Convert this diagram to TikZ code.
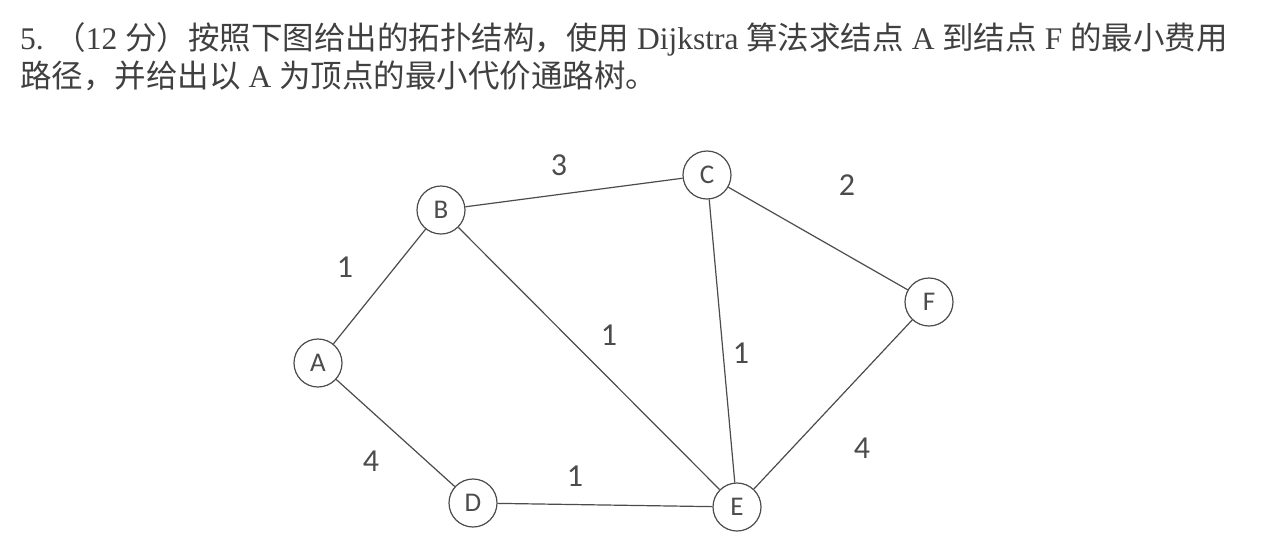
\documentclass[tikz,border=0pt]{standalone}
\usepackage{fontspec}
\setmainfont{Liberation Serif}
\newfontfamily\cjk{Noto Sans CJK SC}
\newfontfamily\labelfont{Carlito}
\tikzset{
vertex/.style={circle, draw=black!70, line width=1.2pt, minimum size=48pt, inner sep=0pt, text=black!70, font=\labelfont\fontsize{27}{27}\selectfont},
edge/.style={draw=black!70, line width=1.2pt},
weight/.style={text=black!70, inner sep=0pt, font=\labelfont\fontsize{32}{32}\selectfont},
question/.style={anchor=base west, inner sep=0pt, text=black!75, font=\fontsize{31.5}{36}\selectfont},
}
\begin{document}
\begin{tikzpicture}[x=1pt,y=-1pt]
\useasboundingbox[fill=white] (0,0) rectangle (1263,542);

\node[question](line_one) at (20,49) {5. {\cjk （}12 {\cjk 分）按照下图给出的拓扑结构，使用} Dijkstra {\cjk 算法求结点} A {\cjk 到结点} F {\cjk 的最小费用}};
\node[question](line_two) at (20,87) {{\cjk 路径，并给出以} A {\cjk 为顶点的最小代价通路树。}};

\node[vertex](A) at (318,363) {A};
\node[vertex](B) at (441,210) {B};
\node[vertex](C) at (707,175) {C};
\node[vertex](F) at (929,302) {F};
\node[vertex](D) at (473,503) {D};
\node[vertex](E) at (737,507) {E};

\draw [edge] (A) -- (B);
\draw [edge] (B) -- (C);
\draw [edge] (C) -- (F);
\draw [edge] (B) -- (E);
\draw [edge] (C) -- (E);
\draw [edge] (A) -- (D);
\draw [edge] (D) -- (E);
\draw [edge] (E) -- (F);

\node[weight](w_ab) at (345,267) {1};
\node[weight](w_bc) at (559,165) {3};
\node[weight](w_cf) at (847,185) {2};
\node[weight](w_be) at (609,335) {1};
\node[weight](w_ce) at (741,353) {1};
\node[weight](w_ad) at (371,461) {4};
\node[weight](w_de) at (575,476) {1};
\node[weight](w_ef) at (862,448) {4};
\end{tikzpicture}
\end{document}
